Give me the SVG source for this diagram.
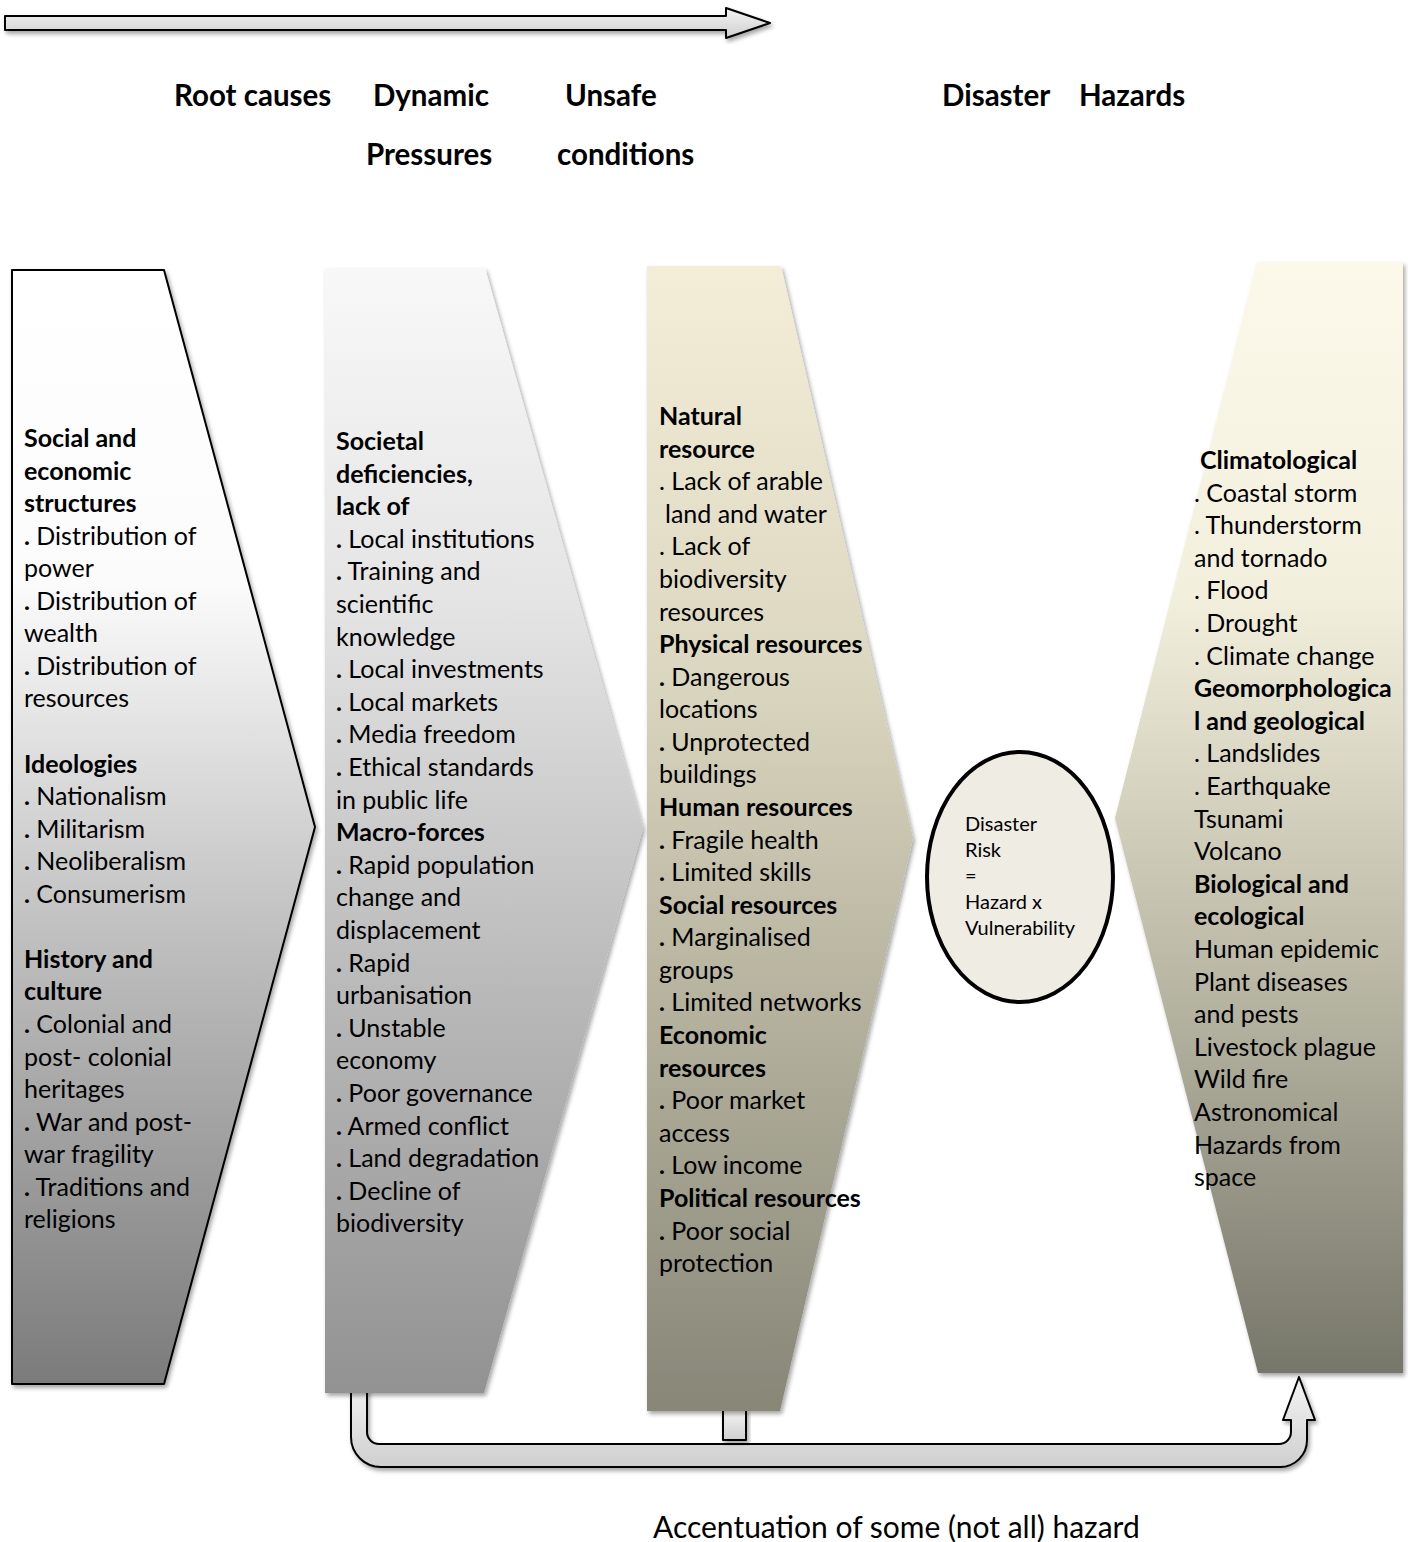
<svg xmlns="http://www.w3.org/2000/svg" width="1408" height="1542" viewBox="0 0 1408 1542">
<style>
.t{font-family:Lato,"Liberation Sans",sans-serif;font-size:25px;fill:#000}
.b{font-weight:bold}
.h{font-family:Lato,"Liberation Sans",sans-serif;font-size:29.5px;font-weight:bold;fill:#000}
.e{font-family:Lato,"Liberation Sans",sans-serif;font-size:20px;fill:#000}
.bt{font-family:Lato,"Liberation Sans",sans-serif;font-size:30px;fill:#000}
.out{stroke:#000;stroke-width:2;stroke-linejoin:round}
</style>
<defs>
<filter id="sh" x="-10%" y="-10%" width="130%" height="130%">
<feDropShadow dx="2" dy="3" stdDeviation="2" flood-color="#000" flood-opacity="0.35"/>
</filter>
<linearGradient id="gArrow" x1="0" y1="0" x2="0" y2="1">
<stop offset="0" stop-color="#f4f4f4"/><stop offset="1" stop-color="#cfcfcf"/>
</linearGradient>
<linearGradient id="g1" x1="0" y1="0" x2="0" y2="1">
<stop offset="0" stop-color="#ffffff"/><stop offset="0.28" stop-color="#fbfbfb"/><stop offset="0.6" stop-color="#bfbfbf"/><stop offset="1" stop-color="#7b7b7b"/>
</linearGradient>
<linearGradient id="g2" x1="0" y1="0" x2="0" y2="1">
<stop offset="0" stop-color="#f8f8f8"/><stop offset="0.3" stop-color="#e4e4e4"/><stop offset="0.65" stop-color="#b8b8b8"/><stop offset="1" stop-color="#929292"/>
</linearGradient>
<linearGradient id="g3" x1="0" y1="0" x2="0" y2="1">
<stop offset="0" stop-color="#f4eed8"/><stop offset="0.35" stop-color="#dcd7c0"/><stop offset="0.7" stop-color="#aeab98"/><stop offset="1" stop-color="#878677"/>
</linearGradient>
<linearGradient id="g4" x1="0" y1="0" x2="0" y2="1">
<stop offset="0" stop-color="#fdf9ea"/><stop offset="0.3" stop-color="#f3efdd"/><stop offset="0.65" stop-color="#b9b7a4"/><stop offset="1" stop-color="#76766a"/>
</linearGradient>
</defs>
<rect width="1408" height="1542" fill="#fff"/>

<g id="top-arrow">
<polygon class="out" points="5,16 726,16 726,8 770,23 726,38 726,30 5,30" fill="url(#gArrow)" filter="url(#sh)" stroke-width="1.5"/>
</g>

<g id="headers">
<text class="h" x="174" y="105.5">Root causes</text>
<text class="h" x="373" y="105.5">Dynamic</text>
<text class="h" x="366" y="164.5">Pressures</text>
<text class="h" x="565" y="105.5">Unsafe</text>
<text class="h" x="557" y="164.5">conditions</text>
<text class="h" x="942" y="105.5">Disaster</text>
<text class="h" x="1079" y="105.5">Hazards</text>
</g>

<g id="connectors">
<path class="out" fill="url(#gArrow)" filter="url(#sh)" d="M351,1390 L351,1437 A30,30 0 0 0 381,1467 L1280,1467 A27,27 0 0 0 1307,1440 L1307,1420 L1315,1420 L1299,1377 L1283,1420 L1291,1420 L1291,1432 A12,12 0 0 1 1279,1444 L379,1444 A12,12 0 0 1 367,1432 L367,1390 Z"/>
<rect class="out" x="723" y="1410" width="23" height="30" fill="url(#gArrow)" filter="url(#sh)"/>
</g>

<g id="root-causes">
<polygon class="out" points="12,270 164,270 315,827 164,1384 12,1384" fill="url(#g1)" filter="url(#sh)"/>
<text class="t">
<tspan class="b" x="24" y="447">Social and</tspan>
<tspan class="b" x="24" y="479.6">economic</tspan>
<tspan class="b" x="24" y="512.1">structures</tspan>
<tspan x="24" y="544.7"><tspan class="b">.</tspan> Distribution of</tspan>
<tspan x="24" y="577.2">power</tspan>
<tspan x="24" y="609.8"><tspan class="b">.</tspan> Distribution of</tspan>
<tspan x="24" y="642.3">wealth</tspan>
<tspan x="24" y="674.9"><tspan class="b">.</tspan> Distribution of</tspan>
<tspan x="24" y="707.4">resources</tspan>
<tspan class="b" x="24" y="772.5">Ideologies</tspan>
<tspan x="24" y="805.1"><tspan class="b">.</tspan> Nationalism</tspan>
<tspan x="24" y="837.6"><tspan class="b">.</tspan> Militarism</tspan>
<tspan x="24" y="870.2"><tspan class="b">.</tspan> Neoliberalism</tspan>
<tspan x="24" y="902.7"><tspan class="b">.</tspan> Consumerism</tspan>
<tspan class="b" x="24" y="967.8">History and</tspan>
<tspan class="b" x="24" y="1000.4">culture</tspan>
<tspan x="24" y="1032.9"><tspan class="b">.</tspan> Colonial and</tspan>
<tspan x="24" y="1065.5">post- colonial</tspan>
<tspan x="24" y="1098">heritages</tspan>
<tspan x="24" y="1130.6"><tspan class="b">.</tspan> War and post-</tspan>
<tspan x="24" y="1163.1">war fragility</tspan>
<tspan x="24" y="1195.7"><tspan class="b">.</tspan> Traditions and</tspan>
<tspan x="24" y="1228.2">religions</tspan>
</text>
</g>

<g id="dynamic-pressures">
<polygon points="325,268 485,268 643,828 484,1393 325,1393" fill="url(#g2)" filter="url(#sh)"/>
<text class="t">
<tspan class="b" x="336" y="450">Societal</tspan>
<tspan class="b" x="336" y="482.6">deficiencies,</tspan>
<tspan class="b" x="336" y="515.2">lack of</tspan>
<tspan x="336" y="547.8"><tspan class="b">.</tspan> Local institutions</tspan>
<tspan x="336" y="580.4"><tspan class="b">.</tspan> Training and</tspan>
<tspan x="336" y="613">scientific</tspan>
<tspan x="336" y="645.6">knowledge</tspan>
<tspan x="336" y="678.2"><tspan class="b">.</tspan> Local investments</tspan>
<tspan x="336" y="710.8"><tspan class="b">.</tspan> Local markets</tspan>
<tspan x="336" y="743.4"><tspan class="b">.</tspan> Media freedom</tspan>
<tspan x="336" y="776"><tspan class="b">.</tspan> Ethical standards</tspan>
<tspan x="336" y="808.6">in public life</tspan>
<tspan class="b" x="336" y="841.2">Macro-forces</tspan>
<tspan x="336" y="873.8"><tspan class="b">.</tspan> Rapid population</tspan>
<tspan x="336" y="906.4">change and</tspan>
<tspan x="336" y="939">displacement</tspan>
<tspan x="336" y="971.6"><tspan class="b">.</tspan> Rapid</tspan>
<tspan x="336" y="1004.2">urbanisation</tspan>
<tspan x="336" y="1036.8"><tspan class="b">.</tspan> Unstable</tspan>
<tspan x="336" y="1069.4">economy</tspan>
<tspan x="336" y="1102"><tspan class="b">.</tspan> Poor governance</tspan>
<tspan x="336" y="1134.6"><tspan class="b">.</tspan> Armed conflict</tspan>
<tspan x="336" y="1167.2"><tspan class="b">.</tspan> Land degradation</tspan>
<tspan x="336" y="1199.8"><tspan class="b">.</tspan> Decline of</tspan>
<tspan x="336" y="1232.4">biodiversity</tspan>
</text>
</g>

<g id="unsafe-conditions">
<polygon points="647,266 781,266 913,838 780,1411 647,1411" fill="url(#g3)" filter="url(#sh)"/>
<text class="t">
<tspan class="b" x="659" y="425">Natural</tspan>
<tspan class="b" x="659" y="457.6">resource</tspan>
<tspan x="659" y="490.2">. Lack of arable</tspan>
<tspan x="665" y="522.7">land and water</tspan>
<tspan x="659" y="555.3">. Lack of</tspan>
<tspan x="659" y="587.9">biodiversity</tspan>
<tspan x="659" y="620.5">resources</tspan>
<tspan class="b" x="659" y="653.1">Physical resources</tspan>
<tspan x="659" y="685.6"><tspan class="b">.</tspan> Dangerous</tspan>
<tspan x="659" y="718.2">locations</tspan>
<tspan x="659" y="750.8"><tspan class="b">.</tspan> Unprotected</tspan>
<tspan x="659" y="783.4">buildings</tspan>
<tspan class="b" x="659" y="816">Human resources</tspan>
<tspan x="659" y="848.5"><tspan class="b">.</tspan> Fragile health</tspan>
<tspan x="659" y="881.1"><tspan class="b">.</tspan> Limited skills</tspan>
<tspan class="b" x="659" y="913.7">Social resources</tspan>
<tspan x="659" y="946.3"><tspan class="b">.</tspan> Marginalised</tspan>
<tspan x="659" y="978.9">groups</tspan>
<tspan x="659" y="1011.4"><tspan class="b">.</tspan> Limited networks</tspan>
<tspan class="b" x="659" y="1044">Economic</tspan>
<tspan class="b" x="659" y="1076.6">resources</tspan>
<tspan x="659" y="1109.2"><tspan class="b">.</tspan> Poor market</tspan>
<tspan x="659" y="1141.8">access</tspan>
<tspan x="659" y="1174.3"><tspan class="b">.</tspan> Low income</tspan>
<tspan class="b" x="659" y="1206.9">Political resources</tspan>
<tspan x="659" y="1239.5"><tspan class="b">.</tspan> Poor social</tspan>
<tspan x="659" y="1272.1">protection</tspan>
</text>
</g>

<g id="disaster-risk">
<ellipse cx="1020" cy="877" rx="93" ry="125" fill="#efece3" stroke="#000" stroke-width="4"/>
<text class="e">
<tspan x="965" y="831">Disaster</tspan>
<tspan x="965" y="857">Risk</tspan>
<tspan x="965" y="883">=</tspan>
<tspan x="965" y="909">Hazard x</tspan>
<tspan x="965" y="935">Vulnerability</tspan>
</text>
</g>

<g id="hazards">
<polygon points="1257,262 1403,262 1403,1373 1258,1373 1115,818" fill="url(#g4)" filter="url(#sh)"/>
<text class="t">
<tspan class="b" x="1200" y="469">Climatological</tspan>
<tspan x="1194" y="501.6">. Coastal storm</tspan>
<tspan x="1194" y="534.2">. Thunderstorm</tspan>
<tspan x="1194" y="566.8">and tornado</tspan>
<tspan x="1194" y="599.4">. Flood</tspan>
<tspan x="1194" y="632">. Drought</tspan>
<tspan x="1194" y="664.6">. Climate change</tspan>
<tspan class="b" x="1194" y="697.2">Geomorphologica</tspan>
<tspan class="b" x="1194" y="729.8">l and geological</tspan>
<tspan x="1194" y="762.4">. Landslides</tspan>
<tspan x="1194" y="795">. Earthquake</tspan>
<tspan x="1194" y="827.6">Tsunami</tspan>
<tspan x="1194" y="860.2">Volcano</tspan>
<tspan class="b" x="1194" y="892.8">Biological and</tspan>
<tspan class="b" x="1194" y="925.4">ecological</tspan>
<tspan x="1194" y="958">Human epidemic</tspan>
<tspan x="1194" y="990.6">Plant diseases</tspan>
<tspan x="1194" y="1023.2">and pests</tspan>
<tspan x="1194" y="1055.8">Livestock plague</tspan>
<tspan x="1194" y="1088.4">Wild fire</tspan>
<tspan x="1194" y="1121">Astronomical</tspan>
<tspan x="1194" y="1153.6">Hazards from</tspan>
<tspan x="1194" y="1186.2">space</tspan>
</text>
</g>

<g id="caption">
<text class="bt" x="653" y="1538">Accentuation of some (not all) hazard</text>
</g>
</svg>
